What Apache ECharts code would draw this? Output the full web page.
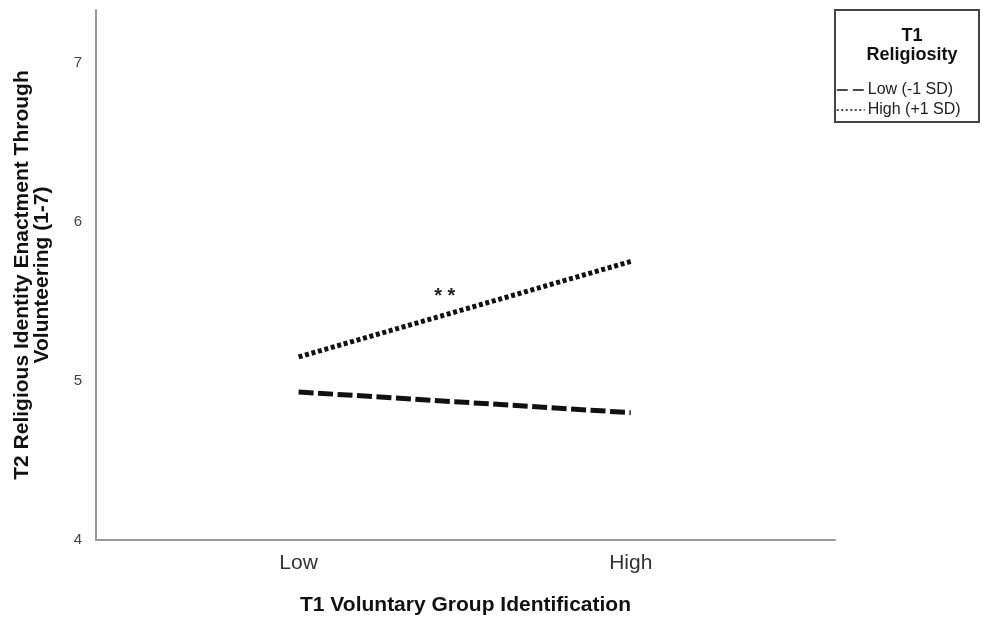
<!DOCTYPE html>
<html>
<head>
<meta charset="utf-8">
<script src="https://cdn.jsdelivr.net/npm/echarts@6/dist/echarts.min.js"></script>
<style>html,body{margin:0;padding:0;background:#fff}#c{width:983px;height:617px}</style>
</head>
<body>
<div id="c"></div>
<script>
// Data
const xPositions = [0, 1];            // Low, High group identification
const xTickLabels = ['Low', 'High'];
const yTicks = [4, 5, 6, 7];
const lowReligiosity = [4.93, 4.80];  // Low (-1 SD)
const highReligiosity = [5.15, 5.75]; // High (+1 SD)
const seriesNames = ['Low (-1 SD)', 'High (+1 SD)'];
const annotation = { x: 0.44, y: 5.53, text: '* *' };

const chart = echarts.init(document.getElementById('c'));
const font = 'Liberation Sans, Arial, sans-serif';

chart.setOption({
  animation: false,
  backgroundColor: '#fff',
  color: ['#111', '#111'],
  title: {
    text: 'T1\nReligiosity',
    left: 907, top: 22,
    textAlign: 'center',
    textStyle: { fontFamily: font, fontWeight: 'bold', fontSize: 18, lineHeight: 19, color: '#111' }
  },
  graphic: [{
    type: 'rect', shape: { x: 835, y: 10, width: 144, height: 112 },
    style: { fill: 'none', stroke: '#444', lineWidth: 2 }
  }],
  legend: {
    orient: 'vertical', left: 836, top: 82,
    itemWidth: 28, itemHeight: 10, itemGap: 4,
    padding: 0,
    itemStyle: { opacity: 0 },
    textStyle: { fontFamily: font, fontSize: 16, color: '#222', padding: [0, 0, 0, -2] },
    data: [
      { name: seriesNames[0], lineStyle: { width: 1.5, type: [11, 5], color: '#111' } },
      { name: seriesNames[1], lineStyle: { width: 1.5, type: [2, 2.5], color: '#111' } }
    ]
  },
  grid: { left: 96, right: 148, top: 10, bottom: 77, outerBoundsMode: 'none', containLabel: false },
  xAxis: {
    type: 'value', min: -0.61, max: 1.615,
    name: 'T1 Voluntary Group Identification',
    nameLocation: 'middle', nameGap: 55,
    nameTextStyle: { fontFamily: font, fontWeight: 'bold', fontSize: 21, color: '#111' },
    axisLine: { show: true, onZero: false, lineStyle: { color: '#999', width: 2 } },
    axisTick: { show: false },
    splitLine: { show: false },
    axisLabel: {
      customValues: xPositions,
      formatter: v => xTickLabels[xPositions.indexOf(v)] || '',
      fontFamily: font, fontSize: 21, color: '#333', margin: 13
    }
  },
  yAxis: {
    type: 'value', min: 4, max: 7.33,
    name: 'T2 Religious Identity Enactment Through\nVolunteering (1-7)',
    nameLocation: 'middle', nameGap: 44,
    nameTextStyle: { fontFamily: font, fontWeight: 'bold', fontSize: 21, lineHeight: 20, color: '#111' },
    axisLine: { show: true, onZero: false, lineStyle: { color: '#999', width: 2 } },
    axisTick: { show: false },
    splitLine: { show: false },
    axisLabel: {
      customValues: yTicks,
      fontFamily: font, fontSize: 15, color: '#444', margin: 14
    }
  },
  series: [
    {
      name: seriesNames[0], type: 'line', symbol: 'none',
      data: xPositions.map((x, i) => [x, lowReligiosity[i]]),
      itemStyle: { color: '#111' },
      lineStyle: { color: '#111', width: 5, type: [15, 4.5] }
    },
    {
      name: seriesNames[1], type: 'line', symbol: 'none',
      data: xPositions.map((x, i) => [x, highReligiosity[i]]),
      itemStyle: { color: '#111' },
      lineStyle: { color: '#111', width: 5, type: [4, 2.7] },
      markPoint: {
        symbol: 'circle', symbolSize: 0,
        data: [{ coord: [annotation.x, annotation.y], value: annotation.text }],
        label: { show: true, position: 'inside', formatter: annotation.text, fontFamily: font, fontSize: 20, fontWeight: 'bold', color: '#222' }
      }
    }
  ]
});
</script>
</body>
</html>
